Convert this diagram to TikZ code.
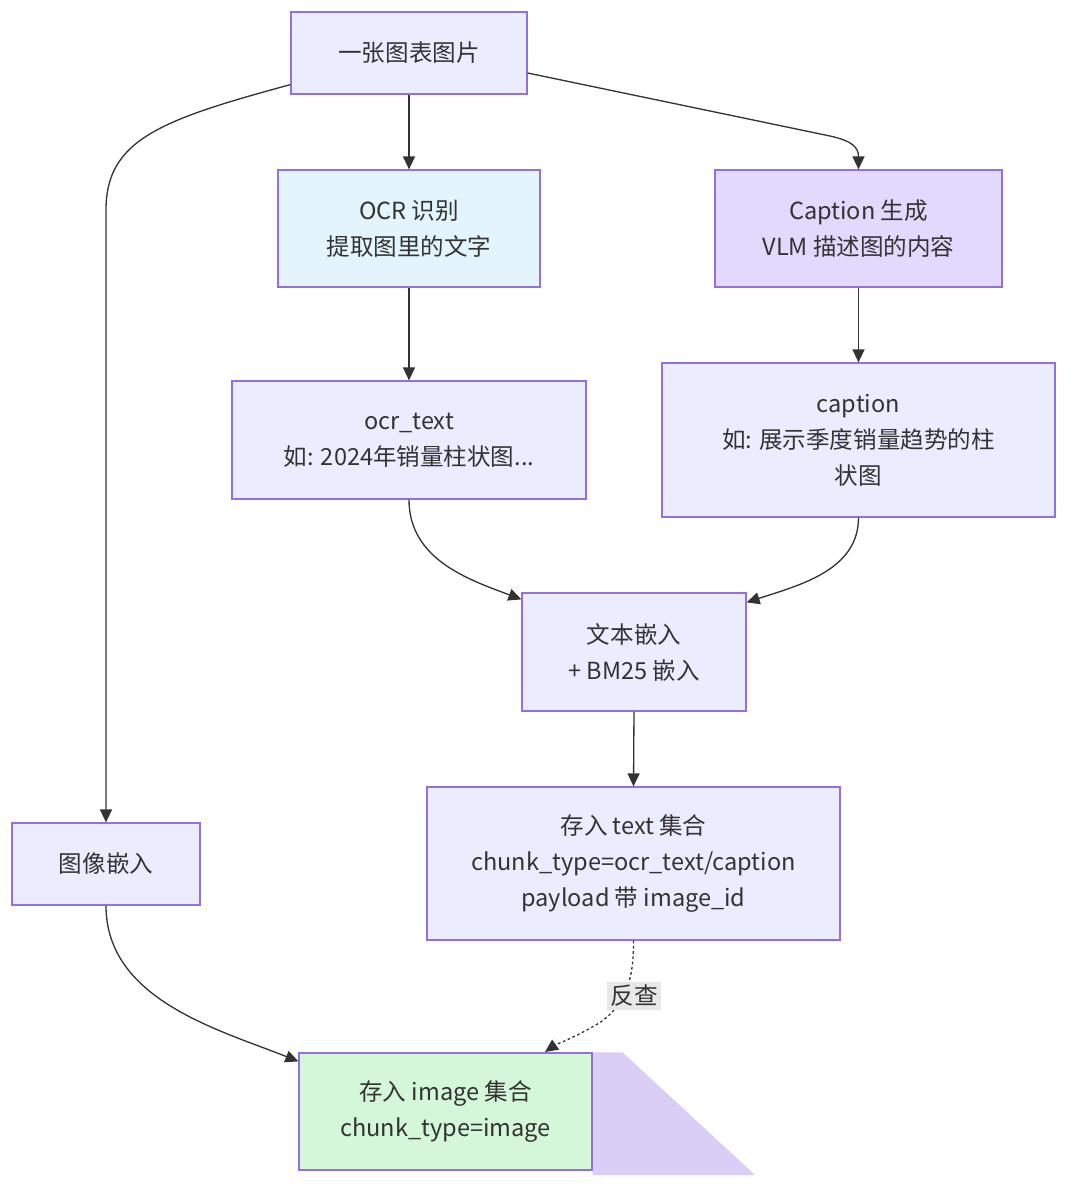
\documentclass[tikz,border=0pt]{standalone}
\usepackage{fontspec}
\setmainfont{Noto Sans CJK SC}
\usepackage{xcolor}
\usetikzlibrary{arrows.meta,positioning,calc,backgrounds}
\definecolor{boxf}{HTML}{ECECFF}
\definecolor{boxd}{HTML}{9370DB}
\definecolor{ocrf}{HTML}{E3F4FD}
\definecolor{capf}{HTML}{E3D9FC}
\definecolor{imgf}{HTML}{D4F7DA}
\definecolor{linec}{HTML}{333333}
\definecolor{shadf}{HTML}{CDBDF4}

\begin{document}
\begin{tikzpicture}[
  b/.style={draw=boxd, fill=boxf, line width=0.7pt, align=center, text=linec,
    font=\fontsize{13.4pt}{20.5pt}\selectfont, inner sep=2pt},
  arr/.style={-{Triangle[length=2.6mm, width=2.4mm]}, draw=linec, line width=0.75pt},
  lbl/.style={fill=black!9, text=linec, font=\fontsize{13.4pt}{15pt}\selectfont, inner sep=2pt}]
\useasboundingbox (0,0) rectangle (21.6,-23.92);
% top row
\node[b, minimum width=4.72cm, minimum height=1.64cm] (pic) at (8.18,-1.06) {一张图表图片};
\node[b, fill=ocrf, minimum width=5.24cm, minimum height=2.34cm] (ocr) at (8.18,-4.57) {OCR 识别\\提取图里的文字};
\node[b, fill=capf, minimum width=5.74cm, minimum height=2.34cm] (cap) at (17.17,-4.57) {Caption 生成\\VLM 描述图的内容};
% text results
\node[b, minimum width=7.08cm, minimum height=2.36cm] (ocrt) at (8.18,-8.8) {ocr\_text\\如: 2024年销量柱状图...};
\node[b, minimum width=7.86cm, minimum height=3.08cm] (capt) at (17.17,-8.8) {caption\\如: 展示季度销量趋势的柱\\状图};
\node[b, minimum width=4.48cm, minimum height=2.36cm] (emb) at (12.68,-13.04) {文本嵌入\\+ BM25 嵌入};
\node[b, minimum width=8.26cm, minimum height=3.06cm] (txt) at (12.67,-17.27) {存入 text 集合\\chunk\_type=ocr\_text/caption\\payload 带 image\_id};
% image path
\node[b, minimum width=3.76cm, minimum height=1.64cm] (img) at (2.12,-17.28) {图像嵌入};
\node[b, fill=imgf, minimum width=5.86cm, minimum height=2.34cm] (imgs) at (8.91,-22.23) {存入 image 集合\\chunk\_type=image};
\begin{scope}[on background layer]
\fill[shadf, opacity=0.75] (imgs.north east) -- ++(0.6,0) -- (15.1,-23.5) -- (imgs.east |- 0,-23.5) -- cycle;
\end{scope}
% connectors
\draw[arr] ($(pic.south west)+(0,0.2)$) .. controls (3.2,-2.4) and (2.12,-2.8) .. (2.12,-4.2) -- (img.north);
\draw[arr] (pic.south) -- (ocr.north);
\draw[arr] ($(pic.east)+(0,-0.4)$) -- (16.6,-2.72) .. controls (17.05,-2.82) and (17.17,-2.95) .. (cap.north);
\draw[arr] (ocr.south) -- (ocrt.north);
\draw[arr] (cap.south) -- (capt.north);
\draw[arr] (ocrt.south) .. controls (8.18,-11.2) and (9.4,-11.6) .. ($(emb.north west)+(0,-0.14)$);
\draw[arr] (capt.south) .. controls (17.17,-11.4) and (16.0,-11.7) .. ($(emb.north east)+(0,-0.2)$);
\draw[arr] (emb.south) -- (txt.north);
\draw[arr] (img.south) .. controls (2.12,-20.0) and (4.4,-20.6) .. ($(imgs.north west)+(0,-0.18)$);
\draw[arr, dash pattern=on 1.5pt off 1.5pt] (txt.south) .. controls (12.68,-19.6) and (12.5,-20.1) .. (12.0,-20.45) .. controls (11.5,-20.75) and (11.1,-20.9) .. (10.9,-21.04);
\node[lbl] (back) at (12.68,-19.92) {反查};
\end{tikzpicture}
\end{document}
